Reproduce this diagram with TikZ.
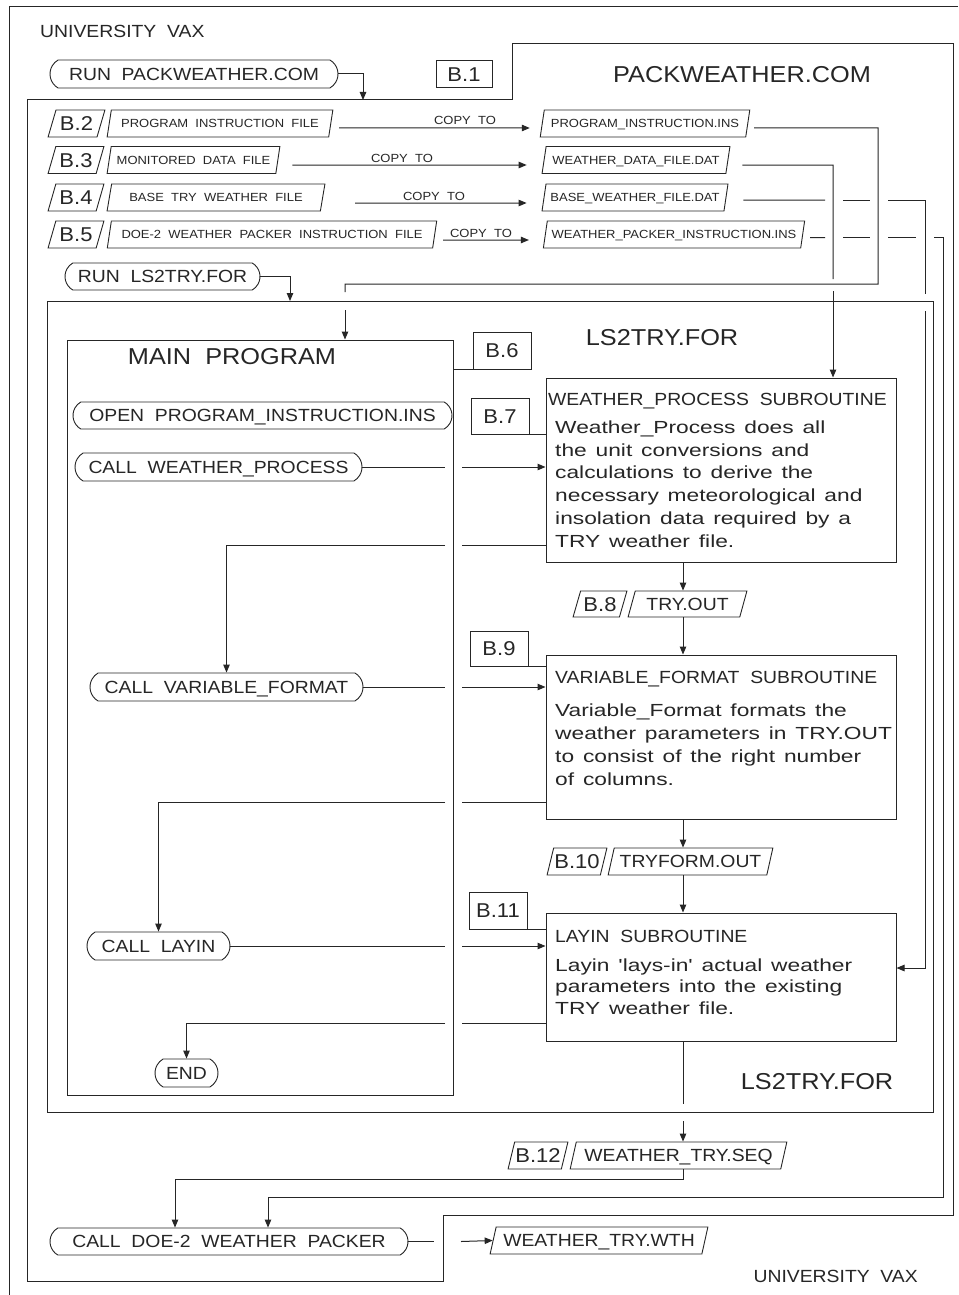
\documentclass[tikz,border=0pt]{standalone}
\usepackage{fontspec}
\setmainfont[FakeStretch=1.1,WordSpace=2]{Liberation Sans}
\newfontfamily\bodyfont[FakeStretch=1.3,WordSpace=1.4]{Liberation Sans}
\usetikzlibrary{shapes.geometric,shapes.misc,arrows.meta}
\definecolor{ink}{HTML}{262626}
\begin{document}
\begin{tikzpicture}[x=1pt,y=-1pt,
  ln/.style={draw=ink,line width=1pt},
  arr/.style={ln,-{Triangle[length=8pt,width=6.5pt]}},
  lbl/.style={inner sep=0pt,text=ink},
  fsmall/.style={font=\fontsize{11.8}{14}\selectfont,text height=8.5pt,text depth=0pt},
  fmid/.style={font=\fontsize{17.6}{20}\selectfont,text height=12.6pt,text depth=0pt},
  fblab/.style={font=\fontsize{20}{22}\selectfont,text height=14.3pt,text depth=0pt},
  fhuge/.style={font=\fontsize{23}{26}\selectfont,text height=16.5pt,text depth=0pt},
  fbody/.style={font=\bodyfont\fontsize{17.5}{22.8}\selectfont},
  pill/.style={rounded rectangle,rounded rectangle arc length=120,draw=ink,line width=0.9pt,
     inner sep=0pt,minimum height=27pt,text=ink,fmid},
  para/.style={trapezium,trapezium left angle=66,trapezium right angle=114,
     trapezium stretches=true,draw=ink,line width=0.9pt,inner sep=0pt,minimum height=27pt,text=ink},
  box/.style={rectangle,draw=ink,line width=1pt,inner sep=0pt},
  tagbox/.style={box,fblab,text=ink}]
\useasboundingbox (0,0) rectangle (958,1295);
\fill[white] (0,0) rectangle (958,1295);

% ---------- frames ----------
\draw[ln] (958,7) -- (9,7) -- (9,1295);
\draw[ln] (27,100) -- (512,100) -- (512,44) -- (953,44) -- (953,1215) -- (443,1215) -- (443,1281) -- (27,1281) -- cycle;
\node[box,minimum width=886pt,minimum height=811pt] (ls2) at (490,706.5) {};
\node[box,minimum width=386pt,minimum height=755pt] (mainp) at (260,717.5) {};

% ---------- titles ----------
\node[lbl,fmid,anchor=west] (uv1) at (40,31) {UNIVERSITY VAX};
\node[lbl,fmid,anchor=east] (uv2) at (918,1276) {UNIVERSITY VAX};
\node[lbl,fhuge] (pwt) at (742,74) {PACKWEATHER.COM};
\node[lbl,fhuge] (lst1) at (662,337) {LS2TRY.FOR};
\node[lbl,fhuge] (lst2) at (817,1081) {LS2TRY.FOR};
\node[lbl,fhuge] (mpt) at (232,356) {MAIN PROGRAM};

% ---------- top part ----------
\node[pill,minimum width=288pt,minimum height=28pt] (runpw) at (194,74) {RUN PACKWEATHER.COM};
\node[tagbox,minimum width=56pt,minimum height=27pt] (b1) at (464,74.5) {B.1};
\coordinate (pwtop) at (363,100);
\draw[arr] (runpw.east) -| (pwtop);

\node[para,fblab,minimum width=57pt] (b2) at (76.5,123.5) {B.2};
\node[para,fsmall,minimum width=226pt] (b2f) at (220,123.5) {PROGRAM INSTRUCTION FILE};
\node[para,fsmall,minimum width=210pt] (pin) at (645,123.5) {PROGRAM\_INSTRUCTION.INS};
\node[para,fblab,minimum width=56pt] (b3) at (76,160) {B.3};
\node[para,fsmall,minimum width=173pt] (b3f) at (193.5,160) {MONITORED DATA FILE};
\node[para,fsmall,minimum width=188pt] (wdf) at (636,160) {WEATHER\_DATA\_FILE.DAT};
\node[para,fblab,minimum width=56pt] (b4) at (76,197.5) {B.4};
\node[para,fsmall,minimum width=218pt] (b4f) at (216,197.5) {BASE TRY WEATHER FILE};
\node[para,fsmall,minimum width=186pt] (bwf) at (635,197.5) {BASE\_WEATHER\_FILE.DAT};
\node[para,fblab,minimum width=56pt] (b5) at (76,234.5) {B.5};
\node[para,fsmall,minimum width=330pt] (b5f) at (272,234.5) {DOE-2 WEATHER PACKER INSTRUCTION FILE};
\node[para,fsmall,minimum width=262pt] (wpi) at (674,234.5) {WEATHER\_PACKER\_INSTRUCTION.INS};

\draw[arr] ([xshift=8pt,yshift=-4.5pt]b2f.east) -- ([xshift=-12pt,yshift=-4.5pt]pin.west);
\node[lbl,fsmall,anchor=base] (cp2) at (465,124.5) {COPY TO};
\draw[arr] ([xshift=14pt,yshift=-5pt]b3f.east) -- ([xshift=-17pt,yshift=-5pt]wdf.west);
\node[lbl,fsmall,anchor=base] (cp3) at (402,162) {COPY TO};
\draw[arr] ([xshift=32pt,yshift=-5.5pt]b4f.east) -- ([xshift=-17pt,yshift=-5.5pt]bwf.west);
\node[lbl,fsmall,anchor=base] (cp4) at (434,200) {COPY TO};
\draw[arr] ([xshift=8pt,yshift=-5.5pt]b5f.east) -- ([xshift=-16pt,yshift=-5.5pt]wpi.west);
\node[lbl,fsmall,anchor=base] (cp5) at (481,237) {COPY TO};

\node[pill,minimum width=195pt] (runls) at (162.5,276.5) {RUN LS2TRY.FOR};
\coordinate (lstop) at (290,301);
\draw[arr] (runls.east) -| (lstop);

% program instruction feed
\draw[ln] ([xshift=6pt,yshift=-4.5pt]pin.east) -- (878,128) -- (878,284) -- (345,284) -- (345,292);
\coordinate (mpin) at (345,310);
\draw[arr] (mpin) -- (mainp.north -| mpin);
% weather data feed
\draw[ln] ([xshift=14pt,yshift=-5pt]wdf.east) -- (833,165) -- (833,279);
\coordinate (wdin) at (833,291);

% base weather feed (gaps at crossings)
\draw[ln] ([xshift=17pt,yshift=-2.5pt]bwf.east) -- (825,200);
\draw[ln] (843,200) -- (870,200);
\draw[ln] (888,200) -- (925,200) -- (925,294);
\coordinate (bwin) at (925,311);
% packer instruction feed
\draw[ln] ([xshift=7pt,yshift=-3pt]wpi.east) -- (825,237.5);
\draw[ln] (843,237.5) -- (870,237.5);
\draw[ln] (888,237.5) -- (916,237.5);
\coordinate (piin) at (934,237.5);

% ---------- main program column ----------
\node[pill,minimum width=379pt] (opn) at (262.5,415.5) {OPEN PROGRAM\_INSTRUCTION.INS};
\node[pill,minimum width=287pt,minimum height=28pt] (cwp) at (218.5,467) {CALL WEATHER\_PROCESS};
\node[pill,minimum width=273pt,minimum height=28pt] (cvf) at (226.5,687) {CALL VARIABLE\_FORMAT};
\node[pill,minimum width=143pt,minimum height=28pt] (cly) at (158.5,946) {CALL LAYIN};
\node[pill,minimum width=63pt,minimum height=28pt] (cend) at (186.5,1073) {END};

% ---------- subroutine boxes ----------
\node[box,minimum width=350pt,minimum height=184pt] (wp) at (721,470) {};
\node[box,minimum width=350pt,minimum height=164pt] (vf) at (721,737) {};
\node[box,minimum width=350pt,minimum height=128pt] (ly) at (721,977) {};

\node[lbl,fmid,anchor=base west] (wpt) at (548,405) {WEATHER\_PROCESS SUBROUTINE};
\node[lbl,fbody,anchor=north west,align=left] (wpb) at (555,420.4)
  {Weather\_Process does all\\the unit conversions and\\calculations to derive the\\necessary meteorological and\\insolation data required by a\\TRY weather file.};
\node[lbl,fmid,anchor=base west] (vft) at (555,683) {VARIABLE\_FORMAT SUBROUTINE};
\node[lbl,fbody,anchor=north west,align=left] (vfb) at (555,704)
  {Variable\_Format formats the\\weather parameters in TRY.OUT\\to consist of the right number\\of columns.};
\node[lbl,fmid,anchor=base west] (lyt) at (555,942) {LAYIN SUBROUTINE};
\node[lbl,font=\bodyfont\fontsize{17.5}{21.5}\selectfont,anchor=north west,align=left] (lyb) at (555,958.4)
  {Layin 'lays-in' actual weather\\parameters into the existing\\TRY weather file.};

% ---------- B tags ----------
\node[tagbox,minimum width=58pt,minimum height=37pt] (b6) at (502,350.5) {B.6};
\node[tagbox,minimum width=58pt,minimum height=36pt] (b7) at (500,416) {B.7};
\node[tagbox,minimum width=58pt,minimum height=35pt] (b9) at (499,648.5) {B.9};
\node[tagbox,minimum width=58pt,minimum height=37pt] (b11) at (498,910.5) {B.11};
\draw[ln] (mainp.east |- b6.south west) -- (b6.south west);
\draw[ln] (b7.south east) -- (wp.west |- b7.south east);
\draw[ln] (b9.south east) -- (vf.west |- b9.south east);
\draw[ln] (b11.south east) -- (ly.west |- b11.south east);

% ---------- data files between boxes ----------
\node[para,fblab,minimum width=54pt,minimum height=26pt] (b8) at (600,604) {B.8};
\node[para,fmid,minimum width=119pt,minimum height=26pt] (tro) at (687.5,604) {TRY.OUT};
\node[para,fblab,minimum width=60pt] (b10) at (577,861.5) {B.10};
\node[para,fmid,minimum width=165pt] (tfo) at (690.5,861.5) {TRYFORM.OUT};
\node[para,fblab,minimum width=60pt] (b12) at (538,1155.5) {B.12};
\node[para,fmid,minimum width=217pt] (wts) at (678.5,1155.5) {WEATHER\_TRY.SEQ};
\node[pill,minimum width=358pt] (doe) at (229,1241.5) {CALL DOE-2 WEATHER PACKER};
\node[para,fmid,minimum width=218pt] (wth) at (599,1240.5) {WEATHER\_TRY.WTH};

\coordinate (cx) at (683,0);
\draw[arr] (wp.south -| cx) -- (tro.north -| cx);
\draw[arr] (tro.south -| cx) -- (vf.north -| cx);
\draw[arr] (vf.south -| cx) -- (tfo.north -| cx);
\draw[arr] (tfo.south -| cx) -- (ly.north -| cx);
\draw[ln] (ly.south -| cx) -- (683,1104);
\coordinate (lyout) at (683,1121);
\draw[arr] (lyout) -- (wts.north -| cx);

% feeds into subroutines
\draw[arr] (wdin) -- (wp.north -| wdin);
\coordinate (bwturn) at (925,968);
\draw[arr] (bwin) -- (bwturn) -- (ly.east |- bwturn);

% calls and returns (gaps at the MAIN PROGRAM border)
\draw[ln] (cwp.east) -- (445,467);
\coordinate (g1) at (462,467);
\draw[arr] (g1) -- (wp.west |- g1);
\coordinate (r1) at (445,545);
\draw[ln] (wp.west |- r1) -- (462,545);
\draw[arr] (r1) -| (cvf.north);

\draw[ln] (cvf.east) -- (445,687);
\coordinate (g2) at (462,687);
\draw[arr] (g2) -- (vf.west |- g2);
\coordinate (r2) at (445,802);
\draw[ln] (vf.west |- r2) -- (462,802);
\draw[arr] (r2) -| (cly.north);

\draw[ln] (cly.east) -- (445,946);
\coordinate (g3) at (462,946);
\draw[arr] (g3) -- (ly.west |- g3);
\coordinate (r3) at (445,1023);
\draw[ln] (ly.west |- r3) -- (462,1023);
\draw[arr] (r3) -| (cend.north);

% bottom part
\coordinate (sq1) at (683,1179);
\coordinate (dx1) at (175,0);
\draw[arr] (wts.south -| cx) -- (sq1) -| (doe.north -| dx1);
\coordinate (pk1) at (943,1197);
\coordinate (dx2) at (268,0);
\draw[arr] (piin) -- (943,237.5) -- (pk1) -| (doe.north -| dx2);
\draw[ln] (doe.east) -- (434,1241.5);
\coordinate (g4) at (461,1241.5);
\draw[arr] (g4) -- (wth.west);
\end{tikzpicture}
\end{document}
